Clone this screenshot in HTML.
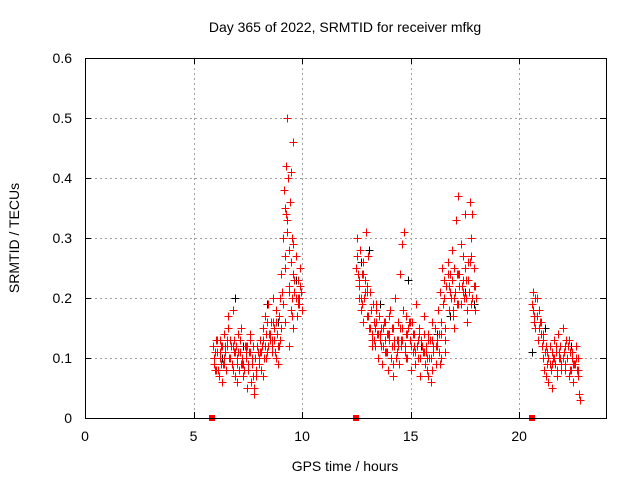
<!DOCTYPE html>
<html><head><meta charset="utf-8"><style>
body{margin:0;background:#fff;}
svg{display:block;font-family:"Liberation Sans",sans-serif;}
</style></head><body>
<svg id="chart" width="640" height="480">
<rect width="640" height="480" fill="#fff"/>
<text x="345" y="32" font-size="14" text-anchor="middle">Day 365 of 2022, SRMTID for receiver mfkg</text>
<text x="345" y="471" font-size="14" text-anchor="middle">GPS time / hours</text>
<text transform="translate(19,238) rotate(-90)" font-size="14" text-anchor="middle">SRMTID / TECUs</text>
<g id="grid"></g><g id="marks" shape-rendering="crispEdges"></g>
<rect x="85.5" y="58.5" width="521" height="360" fill="none" stroke="#000" stroke-width="1"/>
</svg>
<script>
const xTicks=[0,5,10,15,20];
const yTicks=[0,0.1,0.2,0.3,0.4,0.5,0.6];
const yTickLabels=["0","0.1","0.2","0.3","0.4","0.5","0.6"];
const gapTimes=[5.85,12.5,20.6];
// [hour, srmtid] pairs
const redSeg1=[[5.9,0.12],[5.95,0.09],[6.0,0.11],[6.05,0.08],[6.1,0.13],[6.15,0.07],[6.2,0.10],[6.25,0.12],[6.3,0.06],[6.35,0.09],[6.4,0.14],[6.45,0.11],[6.5,0.08],[6.55,0.12],[6.6,0.17],[6.65,0.10],[6.7,0.13],[6.75,0.09],[6.8,0.18],[6.85,0.11],[6.9,0.07],[6.95,0.12],[7.0,0.10],[7.05,0.14],[7.1,0.08],[7.15,0.11],[7.2,0.15],[7.25,0.09],[7.3,0.07],[7.35,0.12],[7.4,0.10],[7.45,0.05],[7.5,0.08],[7.55,0.11],[7.6,0.13],[7.65,0.06],[7.7,0.09],[7.75,0.12],[7.8,0.04],[7.85,0.10],[7.9,0.07],[7.95,0.11],[8.0,0.09],[8.05,0.13],[8.1,0.08],[8.15,0.12],[8.2,0.15],[8.25,0.10],[8.3,0.17],[8.35,0.14],[8.4,0.11],[8.45,0.19],[8.5,0.13],[8.55,0.16],[8.6,0.12],[8.65,0.20],[8.7,0.15],[8.75,0.11],[8.8,0.18],[8.85,0.14],[8.9,0.09],[8.95,0.17],[9.0,0.13],[9.05,0.24],[9.1,0.30],[9.15,0.38],[9.2,0.35],[9.2,0.25],[9.25,0.42],[9.3,0.50],[9.3,0.33],[9.35,0.40],[9.4,0.28],[9.4,0.22],[9.45,0.36],[9.5,0.18],[9.5,0.26],[9.55,0.20],[9.55,0.30],[9.6,0.15],[9.6,0.24],[9.65,0.21],[9.7,0.27],[9.75,0.17],[9.8,0.23],[9.85,0.19],[9.9,0.25],[9.95,0.21],[10.0,0.18],
[6.0,0.08],[6.2,0.13],[6.4,0.10],[6.6,0.15],[6.8,0.12],[7.0,0.06],[7.2,0.09],[7.4,0.11],[7.6,0.14],[7.8,0.05],[8.0,0.10],[8.2,0.07],[8.4,0.16],[8.6,0.13],[8.8,0.10],[9.0,0.20],[9.2,0.16],[9.4,0.12],[9.6,0.29],[9.8,0.20],
[5.92,0.10],[6.02,0.13],[6.12,0.08],[6.22,0.11],[6.32,0.12],[6.42,0.09],[6.52,0.13],[6.62,0.10],[6.72,0.12],[6.82,0.08],[6.92,0.11],[7.02,0.09],[7.12,0.13],[7.22,0.10],[7.32,0.08],[7.42,0.12],[7.52,0.09],[7.62,0.11],[7.72,0.07],[7.82,0.10],[7.92,0.12],[8.02,0.09],[8.12,0.11],[8.22,0.13],[8.32,0.10],[8.42,0.12],[8.52,0.14],[8.62,0.11],[8.72,0.13],[8.82,0.16],[8.92,0.12],[9.02,0.15],[9.12,0.19],[9.22,0.27],[9.32,0.31],[9.42,0.21],[9.52,0.17],[9.62,0.23],[9.72,0.20],[9.82,0.19],[9.92,0.22],
[6.07,0.11],[6.27,0.09],[6.47,0.12],[6.67,0.10],[6.87,0.13],[7.07,0.11],[7.27,0.09],[7.47,0.12],[7.67,0.10],[7.87,0.08],[8.07,0.11],[8.27,0.12],[8.47,0.14],[8.67,0.16],[8.87,0.12],[9.07,0.21],[9.27,0.34],[9.47,0.41],[9.57,0.46],[9.87,0.20]];
const redSeg2=[[12.5,0.25],[12.55,0.30],[12.6,0.22],[12.65,0.28],[12.7,0.18],[12.75,0.24],[12.8,0.26],[12.85,0.20],[12.9,0.23],[12.95,0.31],[13.0,0.17],[13.05,0.27],[13.1,0.15],[13.15,0.21],[13.2,0.13],[13.25,0.19],[13.3,0.16],[13.35,0.12],[13.4,0.18],[13.45,0.14],[13.5,0.10],[13.55,0.17],[13.6,0.13],[13.65,0.15],[13.7,0.09],[13.75,0.12],[13.8,0.16],[13.85,0.11],[13.9,0.14],[13.95,0.08],[14.0,0.13],[14.05,0.18],[14.1,0.10],[14.15,0.15],[14.2,0.07],[14.25,0.12],[14.3,0.20],[14.35,0.11],[14.4,0.16],[14.45,0.09],[14.5,0.24],[14.55,0.13],[14.6,0.29],[14.65,0.18],[14.7,0.31],[14.75,0.12],[14.8,0.17],[14.85,0.10],[14.9,0.15],[14.95,0.13],[15.0,0.08],[15.05,0.16],[15.1,0.11],[15.15,0.14],[15.2,0.09],[15.25,0.19],[15.3,0.12],[15.35,0.10],[15.4,0.15],[15.45,0.07],[15.5,0.13],[15.55,0.11],[15.6,0.17],[15.65,0.09],[15.7,0.12],[15.75,0.08],[15.8,0.14],[15.85,0.10],[15.9,0.13],[15.95,0.06],[16.0,0.16],[16.05,0.11],[16.1,0.15],[16.15,0.09],[16.2,0.12],[16.25,0.18],[16.3,0.14],[16.35,0.21],[16.4,0.16],[16.45,0.25],[16.5,0.19],[16.55,0.23],[16.6,0.15],[16.65,0.22],[16.7,0.26],[16.75,0.18],[16.8,0.24],[16.85,0.20],[16.9,0.28],[16.95,0.17],[17.0,0.25],[17.05,0.21],[17.1,0.33],[17.15,0.19],[17.2,0.37],[17.25,0.24],[17.3,0.29],[17.35,0.22],[17.4,0.27],[17.45,0.20],[17.5,0.34],[17.55,0.23],[17.6,0.18],[17.65,0.26],[17.7,0.21],[17.75,0.36],[17.8,0.19],[17.85,0.34],[17.9,0.25],[17.95,0.22],[18.0,0.20],
[12.6,0.20],[12.8,0.16],[13.0,0.22],[13.2,0.12],[13.4,0.19],[13.6,0.14],[13.8,0.11],[14.0,0.17],[14.2,0.09],[14.4,0.13],[14.6,0.15],[14.8,0.10],[15.0,0.12],[15.2,0.09],[15.4,0.14],[15.6,0.11],[15.8,0.07],[16.0,0.08],[16.2,0.12],[16.4,0.10],[16.6,0.13],[16.8,0.21],[17.0,0.15],[17.2,0.19],[17.4,0.23],[17.6,0.16],[17.8,0.30],
[12.52,0.27],[12.62,0.23],[12.72,0.20],[12.82,0.24],[12.92,0.21],[13.02,0.17],[13.12,0.15],[13.22,0.14],[13.32,0.13],[13.42,0.16],[13.52,0.14],[13.62,0.12],[13.72,0.15],[13.82,0.13],[13.92,0.11],[14.02,0.14],[14.12,0.12],[14.22,0.13],[14.32,0.10],[14.42,0.12],[14.52,0.15],[14.62,0.13],[14.72,0.11],[14.82,0.14],[14.92,0.16],[15.02,0.12],[15.12,0.14],[15.22,0.11],[15.32,0.13],[15.42,0.10],[15.52,0.12],[15.62,0.14],[15.72,0.11],[15.82,0.13],[15.92,0.10],[16.02,0.12],[16.12,0.15],[16.22,0.13],[16.32,0.11],[16.42,0.14],[16.52,0.20],[16.62,0.22],[16.72,0.24],[16.82,0.21],[16.92,0.23],[17.02,0.20],[17.12,0.24],[17.22,0.22],[17.32,0.19],[17.42,0.21],[17.52,0.25],[17.62,0.23],[17.72,0.26],[17.82,0.20],[17.92,0.22],
[12.57,0.24],[12.77,0.19],[12.97,0.21],[13.17,0.18],[13.37,0.15],[13.57,0.13],[13.77,0.16],[13.97,0.14],[14.17,0.15],[14.37,0.13],[14.57,0.12],[14.77,0.14],[14.97,0.16],[15.17,0.12],[15.37,0.14],[15.57,0.11],[15.77,0.10],[15.97,0.13],[16.17,0.12],[16.37,0.09],[16.57,0.11],[16.77,0.22],[16.97,0.18],[17.17,0.24],[17.37,0.22],[17.57,0.20],[17.77,0.27],[17.97,0.18]];
const redSeg3=[[20.6,0.19],[20.65,0.21],[20.7,0.17],[20.75,0.15],[20.8,0.20],[20.85,0.13],[20.9,0.18],[20.95,0.16],[21.0,0.14],[21.05,0.12],[21.1,0.10],[21.15,0.08],[21.2,0.11],[21.25,0.07],[21.3,0.09],[21.35,0.06],[21.4,0.12],[21.45,0.08],[21.5,0.05],[21.55,0.10],[21.6,0.13],[21.65,0.09],[21.7,0.11],[21.75,0.07],[21.8,0.14],[21.85,0.10],[21.9,0.12],[21.95,0.08],[22.0,0.15],[22.05,0.11],[22.1,0.09],[22.15,0.13],[22.2,0.10],[22.25,0.12],[22.3,0.07],[22.35,0.11],[22.4,0.08],[22.45,0.10],[22.5,0.06],[22.55,0.09],[22.6,0.12],[22.65,0.08],[22.7,0.10],[22.75,0.04],[22.8,0.03],
[20.7,0.16],[20.9,0.18],[21.1,0.14],[21.3,0.11],[21.5,0.09],[21.7,0.12],[21.9,0.10],[22.1,0.08],[22.3,0.13],[22.5,0.09],[22.7,0.07],
[20.62,0.18],[20.72,0.20],[20.82,0.17],[20.92,0.15],[21.02,0.16],[21.12,0.13],[21.22,0.12],[21.32,0.10],[21.42,0.09],[21.52,0.11],[21.62,0.10],[21.72,0.08],[21.82,0.11],[21.92,0.09],[22.02,0.10],[22.12,0.12],[22.22,0.10],[22.32,0.08],[22.42,0.11],[22.52,0.09],[22.62,0.10],[22.72,0.08]];
const blackPts=[[6.3,0.10],[6.9,0.20],[7.3,0.12],[7.9,0.07],[8.4,0.19],[8.9,0.16],[9.4,0.28],[9.7,0.23],[12.7,0.26],[13.1,0.28],[13.6,0.19],[14.2,0.15],[14.9,0.23],[15.5,0.12],[16.2,0.14],[16.8,0.17],[17.5,0.21],[17.9,0.19],[20.6,0.11],[21.2,0.15],[21.8,0.14],[22.4,0.12]];
const NS="http://www.w3.org/2000/svg";
const X=t=>85+t*(521/24), Y=v=>418-v*600;
const grid=document.getElementById('grid'), marks=document.getElementById('marks');
function mk(tag,attrs,parent){const e=document.createElementNS(NS,tag);for(const k in attrs)e.setAttribute(k,attrs[k]);parent.appendChild(e);return e;}
xTicks.forEach(t=>{
  const xp=Math.round(X(t))+0.5;
  if(t>0){const g=mk('line',{x1:xp,x2:xp,y1:58,y2:418,stroke:'#a0a0a0','stroke-dasharray':'2,3'},grid);
  
  }
  mk('line',{x1:xp,x2:xp,y1:418,y2:412,stroke:'#000'},grid);
  mk('line',{x1:xp,x2:xp,y1:58,y2:64,stroke:'#000'},grid);
  const l=mk('text',{x:X(t),y:441,'font-size':14,'text-anchor':'middle'},grid);l.textContent=t;
  
  
});
yTicks.forEach((v,i)=>{
  const yp=Math.round(Y(v))+0.5;
  if(v>0&&v<0.6){const g=mk('line',{x1:85,x2:606,y1:yp,y2:yp,stroke:'#a0a0a0','stroke-dasharray':'2,3'},grid);
  
  }
  mk('line',{x1:85,x2:91,y1:yp,y2:yp,stroke:'#000'},grid);
  mk('line',{x1:600,x2:606,y1:yp,y2:yp,stroke:'#000'},grid);
  const l=mk('text',{x:72,y:Y(v)+5,'font-size':14,'text-anchor':'end'},grid);l.textContent=yTickLabels[i];
  
  
});
function plus(p,c,name){const x=Math.round(X(p[0]))+0.5,y=Math.round(Y(p[1]))+0.5;
  const e=mk('path',{d:`M${x-4},${y}h8M${x},${y-4}v8`,stroke:c,'stroke-width':1},marks);
  
  }
blackPts.forEach(p=>plus(p,'#000','black-point'));
redSeg1.forEach(p=>plus(p,'#f00','red-point'));
redSeg2.forEach(p=>plus(p,'#f00','red-point'));
redSeg3.forEach(p=>plus(p,'#f00','red-point'));
gapTimes.forEach(t=>{const r=mk('rect',{x:Math.round(X(t))-3,y:415,width:6,height:6,fill:'#f00'},marks);
  
  });
</script>
</body></html>
